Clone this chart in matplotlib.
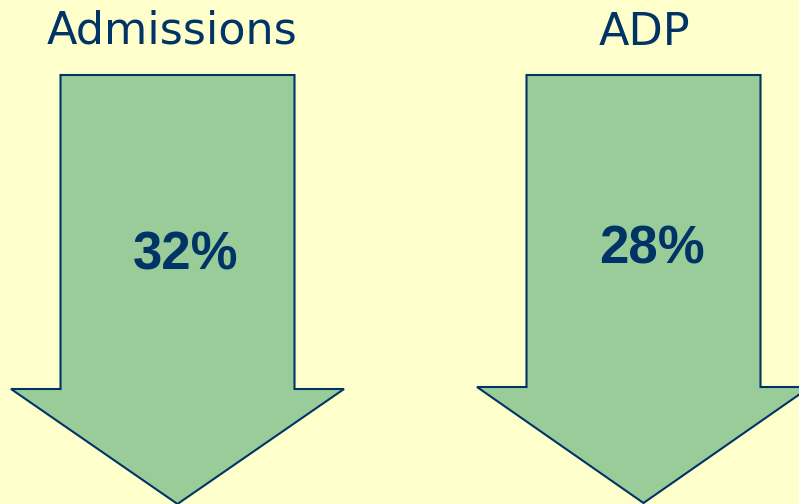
import matplotlib
matplotlib.use("Agg")
import matplotlib.pyplot as plt
from matplotlib.patches import Polygon

categories = ["Admissions", "ADP"]
decline_pct = [32, 28]

BG = "#FFFFCC"
FILL = "#99CC99"
NAVY = "#003366"

fig = plt.figure(figsize=(7.99, 5.04), dpi=100, facecolor=BG)
ax = fig.add_axes([0, 0, 1, 1])
ax.set_xlim(0, 799)
ax.set_ylim(504, 0)
ax.axis("off")
ax.set_facecolor(BG)

centers = [177.5, 643.5]
title_x = [172.5, 644.5]
title_base = [43, 45]
pct_x = [186, 652]
pct_base = [270, 263]
shaft_half = 117
head_half = 166.5
top_y = 75
shoulder_y = [389, 387]
tip_y = [504, 503]

for i, (cat, val) in enumerate(zip(categories, decline_pct)):
    c = centers[i]
    pts = [(c - shaft_half, top_y), (c + shaft_half, top_y),
           (c + shaft_half, shoulder_y[i]), (c + head_half, shoulder_y[i]),
           (c, tip_y[i]), (c - head_half, shoulder_y[i]),
           (c - shaft_half, shoulder_y[i])]
    ax.add_patch(Polygon(pts, closed=True, facecolor=FILL, edgecolor=NAVY,
                         linewidth=1.5, joinstyle="miter", clip_on=False))
    ax.text(title_x[i], title_base[i], cat, ha="center", va="baseline",
            fontsize=32, color=NAVY, family="DejaVu Sans")
    ax.text(pct_x[i], pct_base[i], f"{val}%", ha="center", va="baseline",
            fontsize=38, fontweight="bold", color=NAVY, family="Liberation Sans")

fig.savefig("out.png", dpi=100, facecolor=BG)
